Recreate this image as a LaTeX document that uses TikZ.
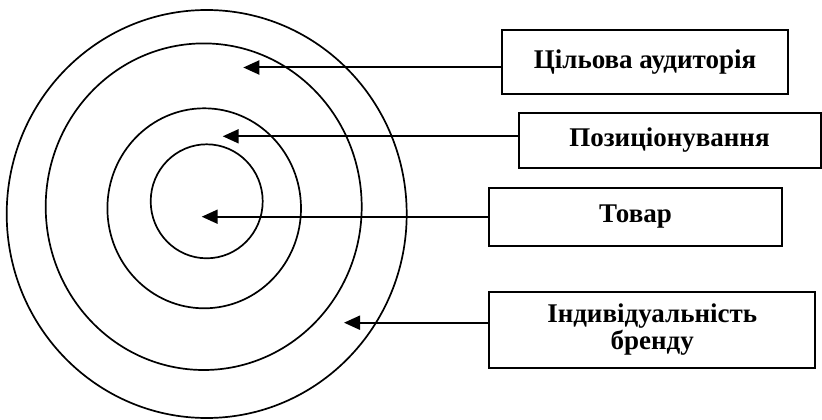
\documentclass[tikz,border=0pt]{standalone}
\usepackage{fontspec}
\setmainfont{Liberation Serif}
\usetikzlibrary{arrows.meta}
\begin{document}
\begin{tikzpicture}[x=1pt,y=-1pt,
  ring/.style={draw=black,line width=1.7pt},
  labelbox/.style={draw=black,line width=2pt,inner sep=0pt,align=center,
    font=\fontsize{27}{27}\selectfont\bfseries},
  arr/.style={line width=2pt,-{Triangle[length=16pt,width=14pt]}}]
\useasboundingbox (0,0) rectangle (822,420);
% rings
\draw[ring] (206.7,214) ellipse [x radius=200, y radius=204];
\draw[ring] (203.7,206.7) ellipse [x radius=158, y radius=163.3];
\draw[ring] (204.2,208.3) ellipse [x radius=96.8, y radius=100];
\draw[ring] (206.7,201.3) ellipse [x radius=56, y radius=57];
% boxes
\node[labelbox,minimum width=286.6pt,minimum height=64pt] (b1) at (645,62) {Цільова аудиторія};
\node[labelbox,minimum width=302pt,minimum height=54.4pt] (b2) at (669.5,140.5) {Позиціонування};
\node[labelbox,minimum width=292.4pt,minimum height=57.4pt] (b3) at (635.5,217) {Товар};
\node[labelbox,minimum width=325.7pt,minimum height=76.6pt] (b4) at (652.2,330) {Індивідуальність\\бренду};
% arrow tips
\coordinate (t1) at (243.3,67.5);
\coordinate (t2) at (222.7,136.3);
\coordinate (t3) at (201.7,216.7);
\coordinate (t4) at (344,322.7);
\draw[arr] (b1.west |- t1) -- (t1);
\draw[arr] (b2.west |- t2) -- (t2);
\draw[arr] (b3.west |- t3) -- (t3);
\draw[arr] (b4.west |- t4) -- (t4);
\end{tikzpicture}
\end{document}
